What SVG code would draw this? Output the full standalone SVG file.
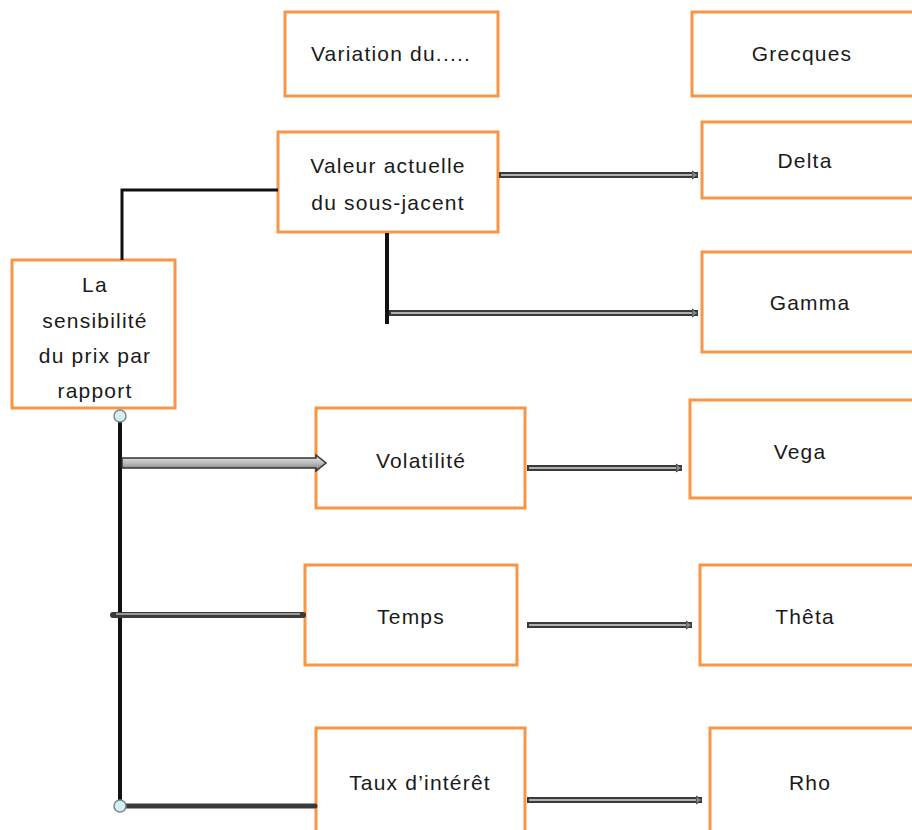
<svg xmlns="http://www.w3.org/2000/svg" width="912" height="830" viewBox="0 0 912 830">
<defs>
<style>
.box{fill:#fff;stroke:#f79646;stroke-width:3}
.t{font-family:"Liberation Sans",Arial,sans-serif;font-size:21px;fill:#1a1a1a;text-anchor:middle;letter-spacing:1.2px}
.dbo{stroke:#3a3a3a;stroke-width:6;fill:none}
.dbi{stroke:#b0b0b0;stroke-width:2;fill:none}
.blk{stroke:#111;fill:none}
</style>
<marker id="ah" markerWidth="8" markerHeight="10" refX="6" refY="5" orient="auto" markerUnits="userSpaceOnUse">
<path d="M0,1 L6,5 L0,9 Z" fill="#888" stroke="#333" stroke-width="1"/>
</marker>
<linearGradient id="gb" x1="0" y1="0" x2="0" y2="1">
<stop offset="0" stop-color="#eee"/><stop offset="0.5" stop-color="#bbb"/><stop offset="1" stop-color="#777"/>
</linearGradient>
</defs>

<g id="variation"><rect class="box" x="285" y="12" width="213" height="84"/><text class="t" x="391" y="61">Variation du.....</text></g>
<g id="grecques"><rect class="box" x="692" y="12" width="230" height="84"/><text class="t" x="802" y="61">Grecques</text></g>
<g id="valeur"><rect class="box" x="278" y="132" width="220" height="100"/><text class="t" x="388" y="173">Valeur actuelle</text><text class="t" x="388" y="210">du sous-jacent</text></g>
<g id="delta"><rect class="box" x="702" y="122" width="220" height="76"/><text class="t" x="805" y="168">Delta</text></g>
<g id="gamma"><rect class="box" x="702" y="252" width="220" height="100"/><text class="t" x="810" y="310">Gamma</text></g>
<g id="sensibilite"><rect class="box" x="12" y="260" width="163" height="148"/><text class="t" x="95" y="292">La</text><text class="t" x="95" y="328">sensibilité</text><text class="t" x="95" y="363">du prix par</text><text class="t" x="95" y="398">rapport</text></g>
<g id="volatilite"><rect class="box" x="316" y="408" width="209" height="100"/><text class="t" x="421" y="468">Volatilité</text></g>
<g id="vega"><rect class="box" x="690" y="400" width="232" height="98" stroke-width="4"/><text class="t" x="800" y="459">Vega</text></g>
<g id="temps"><rect class="box" x="305" y="565" width="212" height="100"/><text class="t" x="411" y="624">Temps</text></g>
<g id="theta"><rect class="box" x="700" y="565" width="222" height="100"/><text class="t" x="805" y="624">Thêta</text></g>
<g id="taux"><rect class="box" x="316" y="728" width="209" height="112"/><text class="t" x="420" y="790">Taux d’intérêt</text></g>
<g id="rho"><rect class="box" x="710" y="728" width="212" height="112"/><text class="t" x="810" y="790">Rho</text></g>

<g id="connectors">
<polyline class="blk" points="122,260 122,190 278,190" stroke-width="3"/>
<line class="blk" x1="387" y1="233" x2="387" y2="324" stroke-width="4"/>
<line class="dbo" x1="499" y1="175" x2="698" y2="175"/>
<line class="dbi" x1="501" y1="175" x2="698" y2="175" marker-end="url(#ah)"/>
<line class="dbo" x1="389" y1="313" x2="698" y2="313"/>
<line class="dbi" x1="391" y1="313" x2="698" y2="313" marker-end="url(#ah)"/>
<line class="blk" x1="120" y1="420" x2="120" y2="802" stroke-width="4"/>
<path d="M122,458 L316,458 L316,455 L326,463 L316,471 L316,468 L122,468 Z" fill="url(#gb)" stroke="#333" stroke-width="1.5"/>
<line class="dbo" x1="113" y1="615" x2="303" y2="615" stroke-width="7" stroke-linecap="round"/>
<line x1="116" y1="614" x2="300" y2="614" stroke="#999" stroke-width="2"/>
<line x1="124" y1="806" x2="315" y2="806" stroke="#3a3a3a" stroke-width="5" stroke-linecap="round"/>
<line class="dbo" x1="527" y1="468" x2="682" y2="468"/>
<line class="dbi" x1="529" y1="468" x2="682" y2="468" marker-end="url(#ah)"/>
<line class="dbo" x1="527" y1="625" x2="692" y2="625" stroke-width="5"/>
<line class="dbi" x1="529" y1="625" x2="692" y2="625" marker-end="url(#ah)"/>
<line class="dbo" x1="527" y1="800" x2="702" y2="800"/>
<line class="dbi" x1="529" y1="800" x2="702" y2="800" marker-end="url(#ah)"/>
<circle cx="120" cy="416" r="6" fill="#d6eef2" stroke="#7a8a8c" stroke-width="1.5"/>
<circle cx="120" cy="806" r="6" fill="#d6eef2" stroke="#7a8a8c" stroke-width="1.5"/>
</g>
</svg>
